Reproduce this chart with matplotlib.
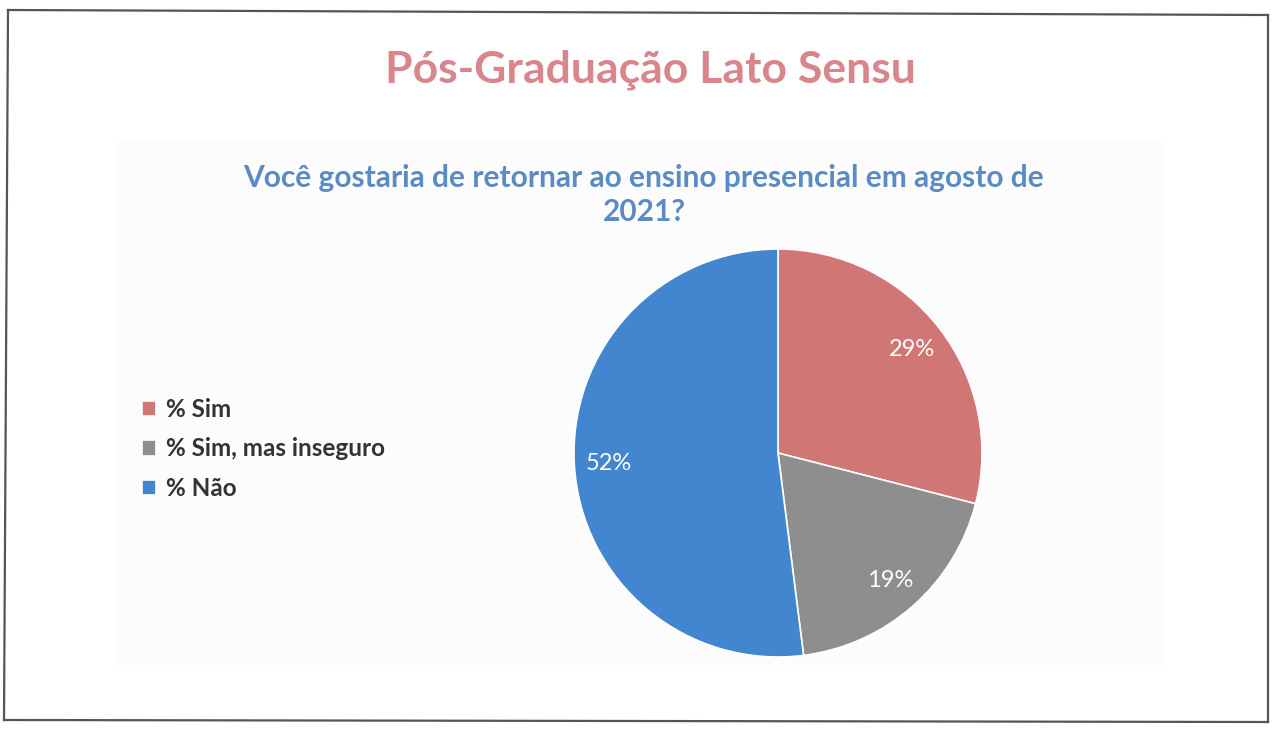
import matplotlib
matplotlib.use('Agg')
import matplotlib.pyplot as plt
from matplotlib.lines import Line2D
from matplotlib.patches import Rectangle

##########################################################################
# data
##########################################################################
labels = ['% Sim', '% Sim, mas inseguro', '% Não']
values = [29, 19, 52]
colors = ['#D07674', '#8E8E8E', '#4286CF']

title = 'Pós-Graduação Lato Sensu'
subtitle = 'Você gostaria de retornar ao ensino presencial em agosto de\n2021?'

W, H = 1279, 731

##########################################################################
# figure
##########################################################################
plt.rcParams['font.family'] = ['Lato', 'DejaVu Sans']
fig = plt.figure(figsize=(W/100, H/100), dpi=100)
fig.patch.set_facecolor('white')

def fx(px):
    return px / W

def fy(py):
    return 1 - py / H

# faint chart area background from the scan
fig.add_artist(Rectangle((fx(115), fy(665)), fx(1165) - fx(115), fy(140) - fy(665),
                         transform=fig.transFigure, facecolor='#FCFCFC', edgecolor='none', zorder=0))

# slide frame
frame = [((8, 10), (1268, 15)), ((1268, 15), (1268, 722)),
         ((1268, 722), (4, 720)), ((4, 720), (8, 10))]
for (x0, y0), (x1, y1) in frame:
    fig.add_artist(Line2D([fx(x0), fx(x1)], [fy(y0), fy(y1)], transform=fig.transFigure,
                          color='#555555', lw=1.6))

fig.text(fx(650), fy(70), title, ha='center', va='center', fontsize=32,
         fontweight='bold', color='#D9858C')
fig.text(fx(644), fy(195), subtitle, ha='center', va='center', fontsize=21.5,
         fontweight='bold', color='#5B8BC6', linespacing=1.27)

# pie
r = 204
cx, cy = 778, 453
ax = fig.add_axes([fx(cx - r), fy(cy + r), 2*r/W, 2*r/H])
wedges, texts, autotexts = ax.pie(values, colors=colors, startangle=90, counterclock=False,
                                  autopct='%d%%', pctdistance=0.83,
                                  wedgeprops={'edgecolor': 'white', 'linewidth': 1.2},
                                  textprops={'color': 'white', 'fontsize': 17})
ax.set_xlim(-1, 1); ax.set_ylim(-1, 1)
ax.set_aspect('auto')
ax.axis('off')

fig.legend(wedges, labels, loc='center left', bbox_to_anchor=(fx(120), fy(449)),
           frameon=False, handlelength=0.6, handleheight=0.6, handletextpad=0.4,
           labelspacing=0.67, prop={'size': 17.5, 'weight': 'bold'}, labelcolor='#333333')

fig.savefig('out.png', dpi=100)
